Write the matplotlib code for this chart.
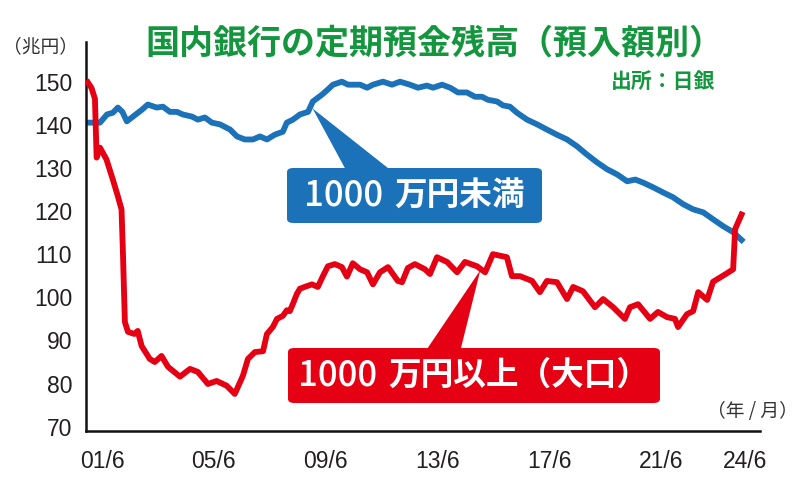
import matplotlib
matplotlib.use("Agg")
import matplotlib.pyplot as plt
from matplotlib import font_manager
from matplotlib.patches import FancyBboxPatch, Polygon

# values (decimal year, trillion yen)
large_years = [2000.92, 2001.05, 2001.17, 2001.23, 2001.35, 2001.58, 2001.81, 2001.99,
               2002.12, 2002.17, 2002.24, 2002.35, 2002.58, 2002.70, 2002.84, 2003.13,
               2003.31, 2003.55, 2003.78, 2004.21, 2004.57, 2004.85, 2005.21, 2005.52,
               2005.88, 2006.17, 2006.46, 2006.64, 2006.89, 2007.18, 2007.32, 2007.53,
               2007.68, 2007.89, 2008.03, 2008.14, 2008.25, 2008.39, 2008.50, 2008.75,
               2008.93, 2009.14, 2009.32, 2009.50, 2009.75, 2010.00, 2010.18, 2010.39,
               2010.65, 2010.90, 2011.11, 2011.36, 2011.65, 2012.00, 2012.15, 2012.36,
               2012.61, 2012.97, 2013.15, 2013.40, 2013.76, 2014.12, 2014.40, 2014.83,
               2015.12, 2015.40, 2015.90, 2016.08, 2016.37, 2016.80, 2017.08, 2017.33,
               2017.69, 2018.05, 2018.27, 2018.62, 2019.05, 2019.34, 2019.70, 2020.12,
               2020.30, 2020.59, 2021.02, 2021.30, 2021.63, 2021.91, 2022.02, 2022.34,
               2022.56, 2022.74, 2023.06, 2023.27, 2023.60, 2023.75, 2023.99, 2024.06,
               2024.29]
large_vals = [149.8, 148.5, 146.0, 132.4, 134.7, 132.0, 127.3, 123.4,
              120.4, 110.5, 94.3, 92.0, 91.5, 92.2, 88.7, 85.7,
              85.0, 86.4, 83.9, 81.6, 83.4, 82.7, 79.9, 80.6,
              79.5, 77.6, 81.8, 85.7, 87.3, 87.5, 91.5, 93.1,
              95.0, 95.7, 97.0, 96.8, 98.5, 100.8, 102.0, 102.6,
              103.0, 102.4, 104.9, 107.2, 107.7, 107.0, 104.8, 107.9,
              106.5, 105.8, 103.0, 105.8, 107.0, 103.8, 103.5, 106.8,
              107.7, 106.5, 105.4, 109.3, 108.2, 105.8, 108.2, 107.2,
              105.8, 110.0, 109.3, 104.9, 104.9, 103.8, 101.2, 103.8,
              103.5, 99.6, 102.4, 101.4, 97.7, 99.6, 97.7, 95.0,
              97.7, 98.4, 95.0, 96.6, 95.4, 95.0, 93.1, 96.1,
              96.8, 101.2, 99.4, 103.6, 104.9, 105.5, 106.5, 115.8,
              119.2]

small_years = [2000.92, 2001.35, 2001.60, 2001.81, 2001.99, 2002.15, 2002.31, 2002.53,
               2002.85, 2003.06, 2003.38, 2003.60, 2003.85, 2004.10, 2004.31, 2004.64,
               2004.85, 2005.10, 2005.35, 2005.64, 2006.00, 2006.25, 2006.53, 2006.82,
               2007.07, 2007.32, 2007.60, 2007.89, 2008.03, 2008.25, 2008.50, 2008.79,
               2008.96, 2009.29, 2009.50, 2009.68, 2010.00, 2010.22, 2010.65, 2010.90,
               2011.11, 2011.47, 2011.79, 2012.08, 2012.43, 2012.72, 2013.04, 2013.26,
               2013.58, 2013.87, 2014.15, 2014.47, 2014.76, 2015.01, 2015.22, 2015.55,
               2015.76, 2016.01, 2016.26, 2016.62, 2016.98, 2017.33, 2017.69, 2018.05,
               2018.41, 2018.76, 2019.12, 2019.48, 2019.84, 2020.20, 2020.49, 2020.77,
               2021.13, 2021.49, 2021.84, 2022.20, 2022.56, 2022.92, 2023.27, 2023.63,
               2023.99, 2024.29]
small_vals = [140.5, 140.5, 142.4, 142.8, 144.0, 143.0, 140.8, 141.9,
              143.5, 144.7, 144.0, 144.2, 143.0, 143.0, 142.4, 141.9,
              141.2, 141.7, 140.5, 140.1, 138.9, 137.3, 136.6, 136.6,
              137.3, 136.6, 137.7, 138.4, 140.5, 141.2, 142.4, 143.0,
              145.4, 147.0, 148.2, 149.3, 150.0, 149.3, 149.3, 148.6,
              149.3, 150.0, 149.3, 150.0, 149.3, 148.6, 149.1, 148.6,
              149.3, 148.6, 147.5, 147.5, 146.5, 146.5, 145.8, 145.4,
              144.5, 144.2, 142.8, 141.2, 140.1, 138.9, 137.7, 136.6,
              135.0, 133.1, 131.3, 129.7, 128.5, 126.9, 127.3, 126.6,
              125.5, 124.3, 123.2, 121.6, 120.4, 119.7, 118.1, 116.5,
              115.1, 113.3]

tick_years = [2001.42, 2005.42, 2009.42, 2013.42, 2017.42, 2021.42, 2024.42]
tick_labels = ["01/6", "05/6", "09/6", "13/6", "17/6", "21/6", "24/6"]
y_ticks = [70, 80, 90, 100, 110, 120, 130, 140, 150]

BLUE = "#1b72b8"
RED = "#e50013"
GREEN = "#14963f"
INK = "#231f20"

available = {f.name for f in font_manager.fontManager.ttflist}
narrow = "Liberation Sans Narrow" in available
num_font = "Liberation Sans Narrow" if narrow else "Liberation Sans"
JP = ["Noto Sans CJK JP", "DejaVu Sans"]


def fxy(px, py):
    # pixel position in the 800x500 picture -> figure fraction
    return px / 800, 1 - py / 500


fig = plt.figure(figsize=(8, 5), dpi=100)
ax = fig.add_axes([86 / 800, 69 / 500, 674 / 800, 389 / 500])

ax.plot(small_years, small_vals, color=BLUE, lw=4.2, solid_joinstyle="round", zorder=2)
ax.plot(large_years, large_vals, color=RED, lw=4.2, solid_joinstyle="round", zorder=3)

ax.set_xlim(2000.85, 2024.95)
ax.set_ylim(69.0, 159.2)
ax.set_xticks(tick_years)
ax.set_xticklabels(tick_labels)
ax.set_yticks(y_ticks)
for side in ["top", "right"]:
    ax.spines[side].set_visible(False)
for side in ["left", "bottom"]:
    ax.spines[side].set_linewidth(1.8)
    ax.spines[side].set_color("#111111")
ax.tick_params(axis="both", length=0, colors=INK)
ax.tick_params(axis="y", pad=10)
ax.tick_params(axis="x", pad=14)
for lab in ax.get_xticklabels() + ax.get_yticklabels():
    lab.set_fontfamily(num_font)
    lab.set_fontsize(18 if narrow else 16.5)
    lab.set_color(INK)

# title and notes
fig.text(*fxy(434, 43), "国内銀行の定期預金残高（預入額別）", family=JP, fontsize=24.5,
         fontweight="bold", color=GREEN, ha="center", va="center")
fig.text(*fxy(663, 81), "出所：日銀", family=JP, fontsize=15, fontweight="bold",
         color=GREEN, ha="center", va="center")
fig.text(*fxy(41, 47), "（兆円）", family=JP, fontsize=13.5, color="#333333",
         ha="center", va="center")
fig.text(*fxy(752, 412), "（年 / 月）", family=JP, fontsize=13.5, color="#333333",
         ha="center", va="center")

renderer = fig.canvas.get_renderer()


def callout(box, base, tip, color, kanji):
    x0, y0, x1, y1 = box
    bx, by = fxy(x0, y1)
    bw, bh = (x1 - x0) / 800, (y1 - y0) / 500
    fig.patches.append(FancyBboxPatch((bx, by), bw, bh, boxstyle="round,pad=0,rounding_size=0.008",
                                      transform=fig.transFigure, facecolor=color,
                                      edgecolor="none", zorder=5))
    tx, ty = fig.transFigure.inverted().transform(ax.transData.transform(tip))
    b0 = fxy(base[0], y0 + 4)
    b1 = fxy(base[1], y0 + 4)
    fig.patches.append(Polygon([b0, b1, (tx, ty)], closed=True, transform=fig.transFigure,
                               facecolor=color, edgecolor="none", zorder=5))
    # digits in regular weight, kanji in bold, centred in the box together
    cy = 1 - (y0 + y1) / 2 / 500
    t1 = fig.text(0, cy, "1000", family=JP, fontsize=25, fontweight="medium", color="white",
                  ha="left", va="center", zorder=6)
    t2 = fig.text(0, cy, kanji, family=JP, fontsize=23.5, fontweight="bold", color="white",
                  ha="left", va="center", zorder=6)
    w1 = t1.get_window_extent(renderer).width / 800
    w2 = t2.get_window_extent(renderer).width / 800
    gap = 11 / 800
    start = bx + bw / 2 - (w1 + gap + w2) / 2
    t1.set_x(start)
    t2.set_x(start + w1 + gap)


callout((287, 168, 542, 223), (347, 393), (2008.95, 143.8), BLUE, "万円未満")
callout((288, 348, 660, 403), (425, 460), (2014.95, 106.3), RED, "万円以上（大口）")

fig.savefig("out.png", dpi=100)
